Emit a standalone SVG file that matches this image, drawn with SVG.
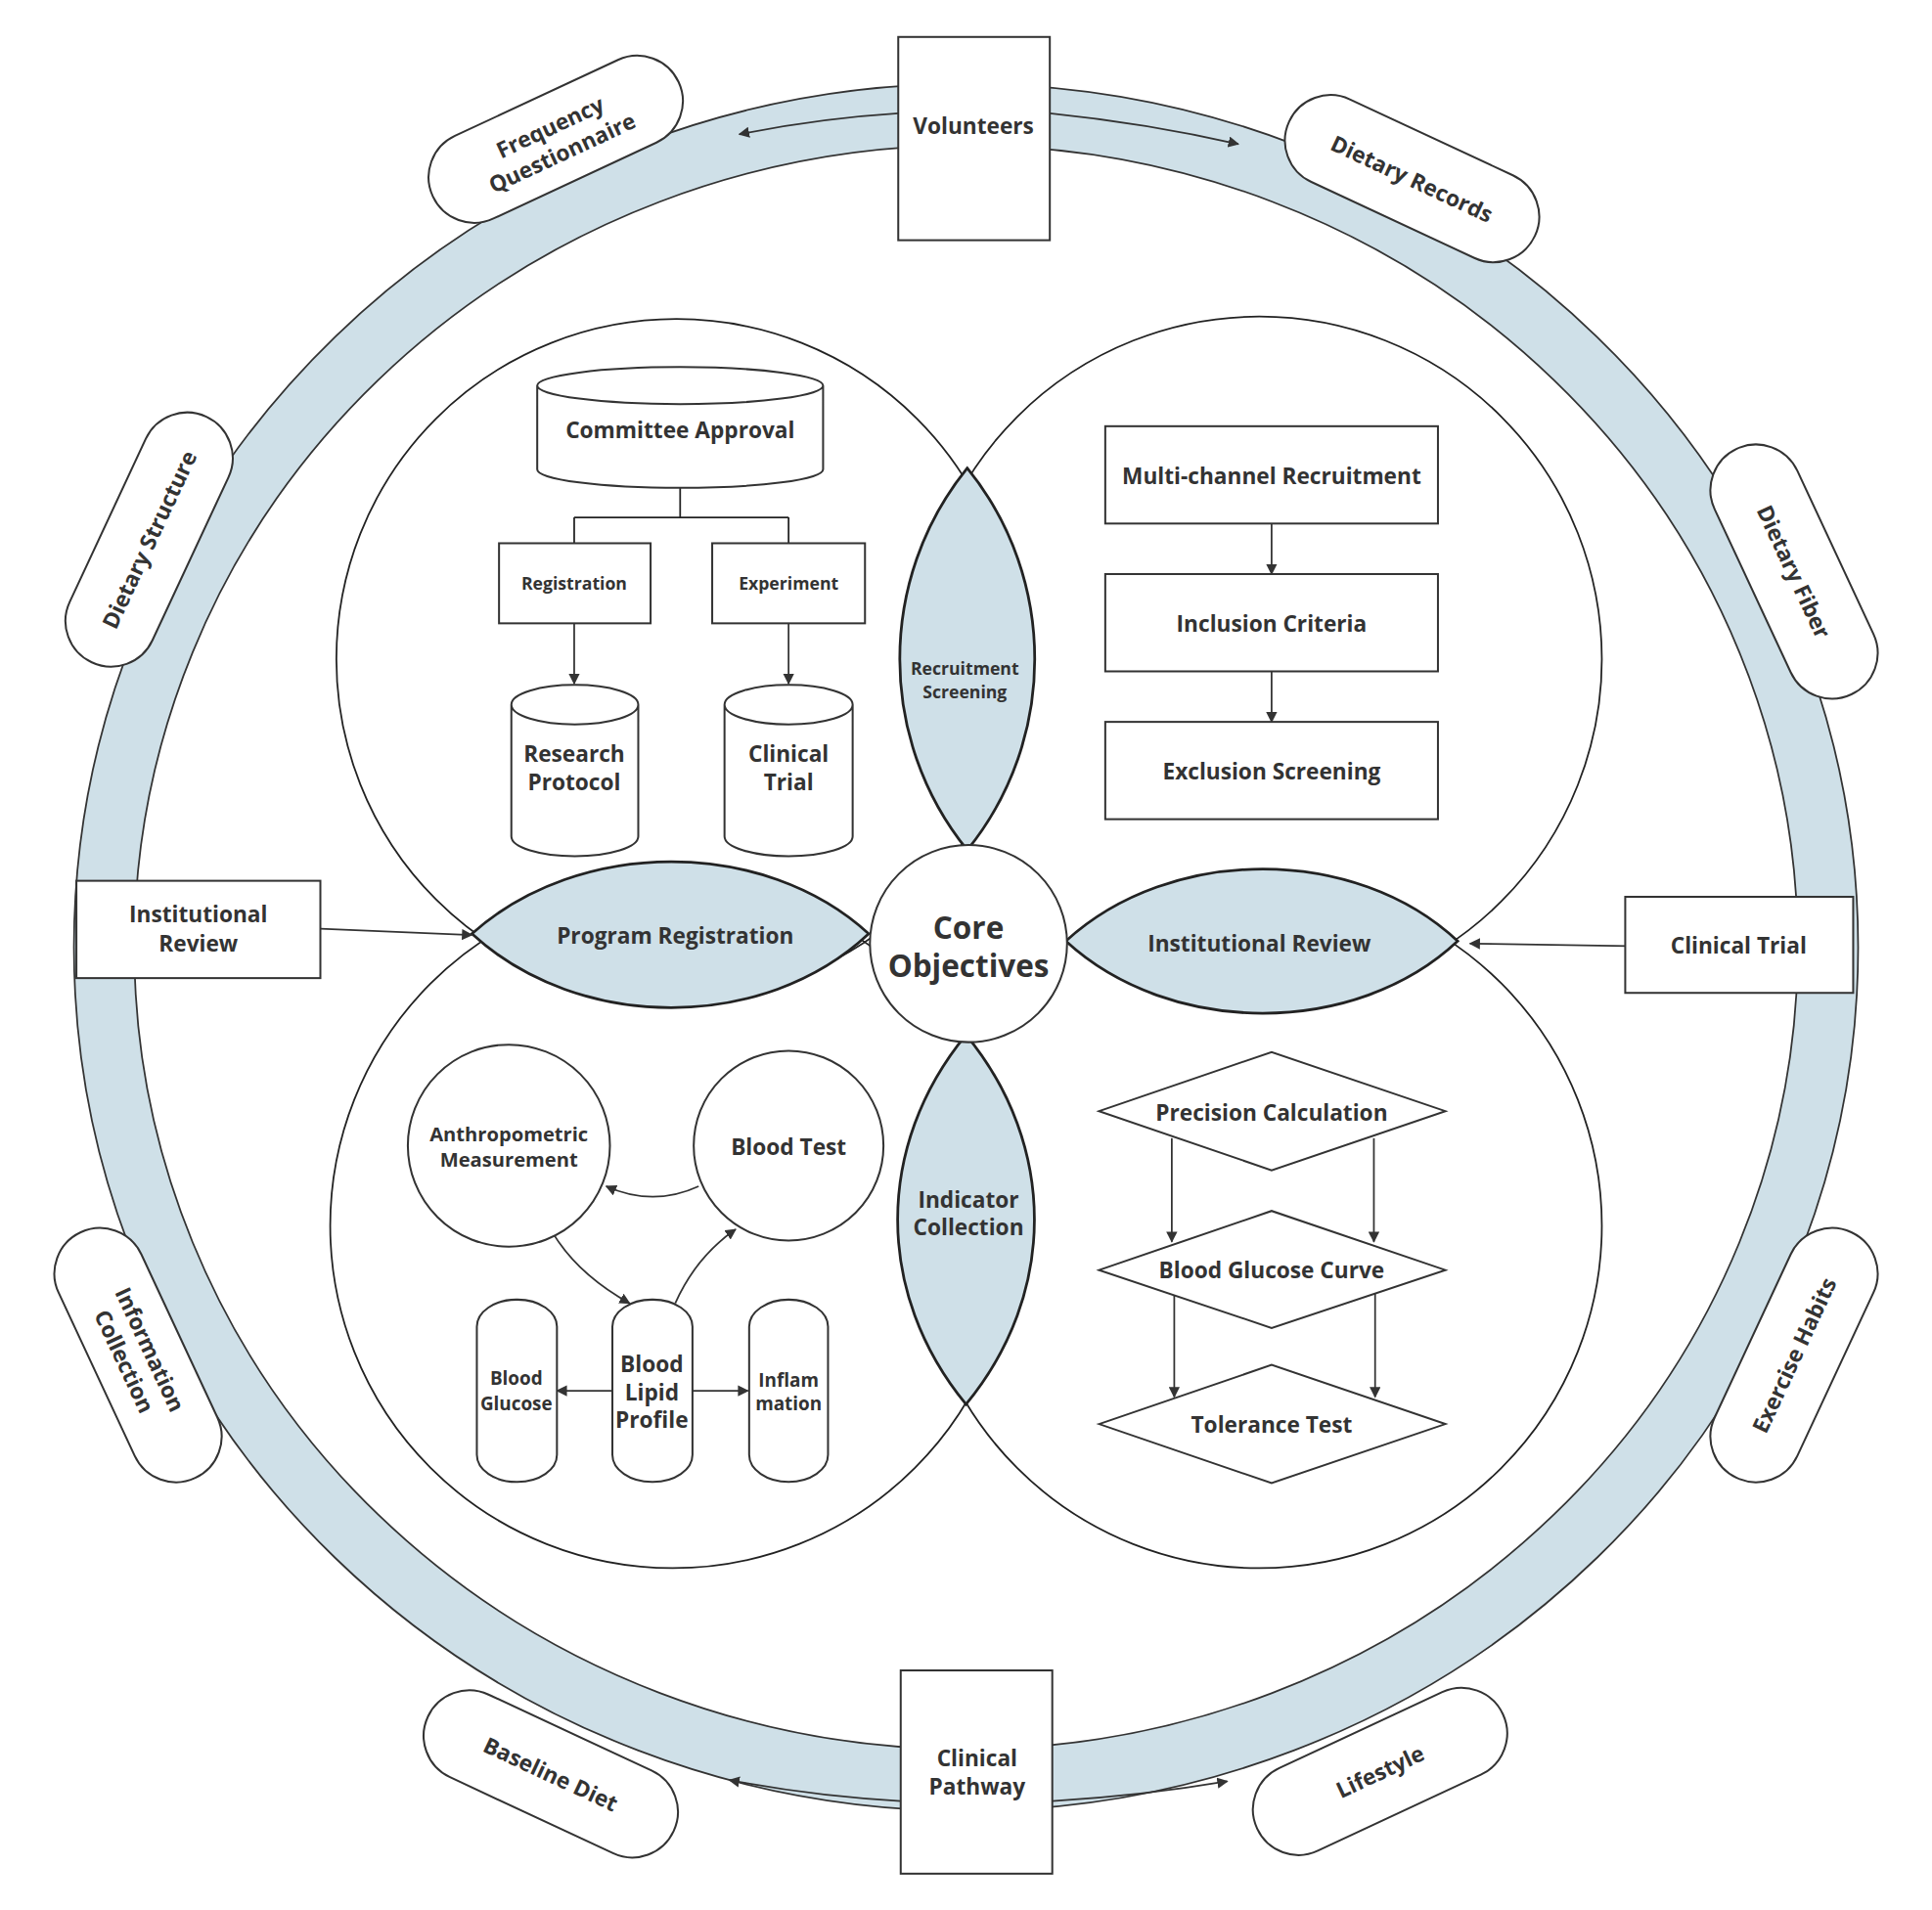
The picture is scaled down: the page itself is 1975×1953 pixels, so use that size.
<svg xmlns="http://www.w3.org/2000/svg" width="1975" height="1953" viewBox="0 0 1975 1953">
<defs>
<style>
text{font-family:"Open Sans","Noto Sans",sans-serif;font-weight:700;fill:#333;text-anchor:middle;dominant-baseline:central}
.n{fill:#fff;stroke:#333;stroke-width:1.6}
.c{fill:none;stroke:#222;stroke-width:1.4}
.l{fill:#cfe0e8;stroke:#222;stroke-width:2.2}
.a{fill:none;stroke:#333;stroke-width:1.4;marker-end:url(#ar)}
.f18{font-size:18px}.f16{font-size:16px}.f15{font-size:15px}.f14{font-size:14px}
</style>
<marker id="ar" viewBox="0 0 10 10" refX="9" refY="5" markerWidth="9" markerHeight="9" orient="auto" markerUnits="userSpaceOnUse"><path d="M0,0 L10,5 L0,10 z" fill="#333"/></marker>
</defs>
<rect width="1975" height="1953" fill="#fff"/>
<g transform="scale(1.2596)">
<g id="ring">
<ellipse cx="784" cy="769" rx="724" ry="701" fill="#cfe0e8" stroke="#333" stroke-width="1.4"/>
<ellipse cx="784" cy="769" rx="675" ry="651" fill="#fff" stroke="#333" stroke-width="1.4"/>
</g>
<g id="circles">
<circle cx="549" cy="535" r="276" class="c"/>
<circle cx="1022" cy="535" r="278" class="c"/>
<circle cx="546" cy="995" r="278" class="c"/>
<circle cx="1022" cy="995" r="278" class="c"/>
</g>
<g id="lenses">
<path class="l" d="M785,380 C858,470 858,600 785,690 C712,600 712,470 785,380 Z"/>
<path class="l" d="M784,840 C858,930 858,1050 784,1140 C710,1050 710,930 784,840 Z"/>
<path class="l" d="M383,758 C470,680 620,680 705,758 C620,838 470,838 383,758 Z"/>
<path class="l" d="M865,764 C950,686 1100,686 1183,764 C1100,842 950,842 865,764 Z"/>
</g>
<g id="connectors">
<path class="a" d="M729,92 Q665,96 600,109"/>
<path class="a" d="M852,92 Q930,100 1005,117"/>
<path class="a" d="M731,1462 Q660,1458 592,1445"/>
<path class="a" d="M854,1462 Q925,1458 996,1446"/>
<path class="a" d="M260,754 L383,759"/>
<path class="a" d="M1322,768 L1193,766"/>
<path class="c" d="M552,396 V420 M466,420 H640 M466,420 V441 M640,420 V441"/>
<path class="a" d="M466,506 V555"/>
<path class="a" d="M640,506 V555"/>
<path class="a" d="M1032,425 V466"/>
<path class="a" d="M1032,545 V586"/>
<path class="a" d="M567,963 Q530,980 492,963"/>
<path class="a" d="M450,1003 Q470,1035 511,1058"/>
<path class="a" d="M548,1058 Q565,1020 597,998"/>
<path class="a" d="M497,1129 H452"/>
<path class="a" d="M562,1129 H607"/>
<path class="a" d="M951,924 V1008"/>
<path class="a" d="M1115,924 V1008"/>
<path class="a" d="M953,1050 V1134"/>
<path class="a" d="M1116,1050 V1134"/>
</g>
<g id="volunteers"><rect class="n" x="729" y="30" width="123" height="165"/><text class="f18" x="790" y="102">Volunteers</text></g>
<g id="clinical-pathway"><rect class="n" x="731" y="1356" width="123" height="165"/><text class="f18" x="793" y="1427">Clinical</text><text class="f18" x="793" y="1450">Pathway</text></g>
<g id="inst-review-left"><rect class="n" x="62" y="715" width="198" height="79"/><text class="f18" x="161" y="742">Institutional</text><text class="f18" x="161" y="766">Review</text></g>
<g id="clinical-trial-right"><rect class="n" x="1319" y="728" width="185" height="78"/><text class="f18" x="1411" y="767">Clinical Trial</text></g>
<g id="freq" transform="translate(451,113) rotate(-25)"><rect class="n" x="-110" y="-37" width="220" height="74" rx="37"/><text class="f18" y="-11">Frequency</text><text class="f18" y="12">Questionnaire</text></g>
<g id="dietary-records" transform="translate(1146,145) rotate(25)"><rect class="n" x="-110" y="-37" width="220" height="74" rx="37"/><text class="f18">Dietary Records</text></g>
<g id="dietary-structure" transform="translate(121,438) rotate(-65)"><rect class="n" x="-110" y="-37" width="220" height="74" rx="37"/><text class="f18">Dietary Structure</text></g>
<g id="dietary-fiber" transform="translate(1456,464) rotate(65)"><rect class="n" x="-110" y="-37" width="220" height="74" rx="37"/><text class="f18">Dietary Fiber</text></g>
<g id="info" transform="translate(112,1100) rotate(65)"><rect class="n" x="-110" y="-37" width="220" height="74" rx="37"/><text class="f18" y="-11">Information</text><text class="f18" y="12">Collection</text></g>
<g id="exercise" transform="translate(1456,1100) rotate(-65)"><rect class="n" x="-110" y="-37" width="220" height="74" rx="37"/><text class="f18">Exercise Habits</text></g>
<g id="baseline" transform="translate(447,1440) rotate(25)"><rect class="n" x="-110" y="-37" width="220" height="74" rx="37"/><text class="f18">Baseline Diet</text></g>
<g id="lifestyle" transform="translate(1120,1438) rotate(-25)"><rect class="n" x="-110" y="-37" width="220" height="74" rx="37"/><text class="f18">Lifestyle</text></g>
<g id="committee"><path class="n" d="M436,313 V381 A116,15 0 0 0 668,381 V313 A116,15 0 0 0 436,313 A116,15 0 0 0 668,313"/><text class="f18" x="552" y="349">Committee Approval</text></g>
<g id="registration"><rect class="n" x="405" y="441" width="123" height="65"/><text class="f14" x="466" y="473">Registration</text></g>
<g id="experiment"><rect class="n" x="578" y="441" width="124" height="65"/><text class="f14" x="640" y="473">Experiment</text></g>
<g id="research-protocol"><path class="n" d="M415,572 V679 A51.5,16 0 0 0 518,679 V572 A51.5,16 0 0 0 415,572 A51.5,16 0 0 0 518,572"/><text class="f18" x="466" y="612">Research</text><text class="f18" x="466" y="635">Protocol</text></g>
<g id="clinical-trial-cyl"><path class="n" d="M588,572 V679 A52,16 0 0 0 692,679 V572 A52,16 0 0 0 588,572 A52,16 0 0 0 692,572"/><text class="f18" x="640" y="612">Clinical</text><text class="f18" x="640" y="635">Trial</text></g>
<g id="recruit-screen"><text class="f14" x="783" y="542">Recruitment</text><text class="f14" x="783" y="561">Screening</text></g>
<g id="multi"><rect class="n" x="897" y="346" width="270" height="79"/><text class="f18" x="1032" y="386">Multi-channel Recruitment</text></g>
<g id="inclusion"><rect class="n" x="897" y="466" width="270" height="79"/><text class="f18" x="1032" y="506">Inclusion Criteria</text></g>
<g id="exclusion"><rect class="n" x="897" y="586" width="270" height="79"/><text class="f18" x="1032" y="626">Exclusion Screening</text></g>
<g id="program-reg"><text class="f18" x="548" y="759">Program Registration</text></g>
<g id="inst-review-lens"><text class="f18" x="1022" y="766">Institutional Review</text></g>
<g id="indicator"><text class="f18" x="786" y="974">Indicator</text><text class="f18" x="786" y="996">Collection</text></g>
<g id="core"><circle class="n" cx="786" cy="766" r="80"/><text x="786" y="752" style="font-size:25px">Core</text><text x="786" y="783" style="font-size:25px">Objectives</text></g>
<g id="anthro"><circle class="n" cx="413" cy="930" r="82"/><text class="f16" x="413" y="920">Anthropometric</text><text class="f16" x="413" y="941">Measurement</text></g>
<g id="blood-test"><circle class="n" cx="640" cy="930" r="77"/><text class="f18" x="640" y="931">Blood Test</text></g>
<g id="blood-glucose"><rect class="n" x="387" y="1055" width="65" height="148" rx="32" ry="22"/><text class="f15" x="419" y="1119">Blood</text><text class="f15" x="419" y="1139">Glucose</text></g>
<g id="lipid"><rect class="n" x="497" y="1055" width="65" height="148" rx="32" ry="22"/><text class="f18" x="529" y="1107">Blood</text><text class="f18" x="529" y="1130">Lipid</text><text class="f18" x="529" y="1152">Profile</text></g>
<g id="inflam"><rect class="n" x="608" y="1055" width="64" height="148" rx="32" ry="22"/><text class="f15" x="640" y="1120">Inflam</text><text class="f15" x="640" y="1139">mation</text></g>
<g id="precision"><path class="n" d="M892,902 L1032,854 L1173,902 L1032,950 Z"/><text class="f18" x="1032" y="903">Precision Calculation</text></g>
<g id="curve"><path class="n" d="M892,1031 L1032,983 L1173,1031 L1032,1078 Z"/><text class="f18" x="1032" y="1031">Blood Glucose Curve</text></g>
<g id="tolerance"><path class="n" d="M892,1156 L1032,1108 L1173,1156 L1032,1204 Z"/><text class="f18" x="1032" y="1156">Tolerance Test</text></g>
</g>
</svg>
